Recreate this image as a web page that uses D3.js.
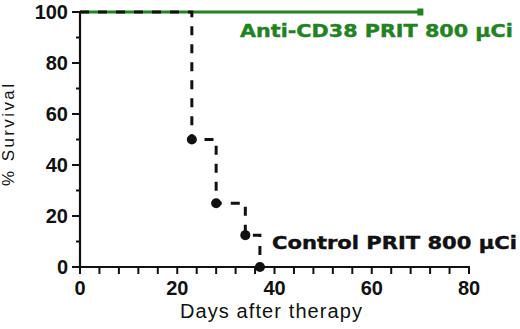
<!DOCTYPE html>
<html lang="en">
<head>
<meta charset="UTF-8">
<title>Survival after PRIT</title>
<script src="https://d3js.org/d3.v7.min.js"></script>
<style>
    body { margin: 0; background: #fff; }
    svg { display: block; }
    .tick-label { font-family: "Liberation Sans Narrow", "Liberation Sans", Arial, sans-serif; font-weight: bold; font-size: 20px; fill: #111; }
    .series-label { font-family: "DejaVu Sans", Verdana, sans-serif; font-weight: bold; font-size: 17px; }
    .axis-title { font-family: "Liberation Sans", Arial, sans-serif; fill: #111; }
</style>
</head>
<body>
<svg id="chart" width="520" height="329"></svg>
<script>
// data
const controlDays = [0, 23, 28, 34, 37];
const controlSurvival = [100, 50, 25, 12.5, 0];
const antiDays = [0, 70];
const antiSurvival = [100, 100];
const xMajorTicks = [0, 20, 40, 60, 80];
const yMajorTicks = [0, 20, 40, 60, 80, 100];

const green = "#1f831f";
const svg = d3.select("#chart");

const x = d3.scaleLinear().domain([0, 80]).range([80, 469]);
const y = d3.scaleLinear().domain([0, 100]).range([267, 12]);

// y axis: minor ticks every 10, labels on majors
svg.append("line").attr("x1", 80).attr("x2", 80).attr("y1", y(100) - 1).attr("y2", y(0) + 1)
    .attr("stroke", "#111").attr("stroke-width", 2.2);
svg.append("g").selectAll("line").data(d3.range(0, 101, 10)).join("line")
    .attr("x1", d => yMajorTicks.includes(d) ? 72 : 76).attr("x2", 80)
    .attr("y1", d => y(d)).attr("y2", d => y(d))
    .attr("stroke", "#111").attr("stroke-width", 2);
svg.append("g").selectAll("text").data(yMajorTicks).join("text")
    .attr("class", "tick-label")
    .attr("x", 68).attr("y", d => y(d) + 7)
    .attr("text-anchor", "end")
    .text(d => d);

// x axis: minor ticks every 4 days
svg.append("line").attr("x1", x(0) - 1).attr("x2", x(80) + 1).attr("y1", y(0)).attr("y2", y(0))
    .attr("stroke", "#111").attr("stroke-width", 2.2);
svg.append("g").selectAll("line").data(d3.range(0, 81, 4)).join("line")
    .attr("x1", d => x(d)).attr("x2", d => x(d))
    .attr("y1", y(0)).attr("y2", y(0) + 7)
    .attr("stroke", "#111").attr("stroke-width", 2);
svg.append("g").selectAll("text").data(xMajorTicks).join("text")
    .attr("class", "tick-label")
    .attr("x", d => x(d)).attr("y", 295)
    .attr("text-anchor", "middle")
    .text(d => d);

// anti-CD38 curve (solid green)
const step = d3.line().x(d => x(d[0])).y(d => y(d[1])).curve(d3.curveStepAfter);
svg.append("path")
    .datum(d3.zip(antiDays, antiSurvival))
    .attr("d", step)
    .attr("fill", "none").attr("stroke", green).attr("stroke-width", 3);
svg.append("rect")
    .attr("x", x(antiDays[1]) - 3).attr("y", y(antiSurvival[1]) - 3.5)
    .attr("width", 6).attr("height", 7).attr("fill", green);

// control curve (dashed black)
svg.append("path")
    .datum(d3.zip(controlDays, controlSurvival))
    .attr("d", step)
    .attr("fill", "none").attr("stroke", "#111").attr("stroke-width", 3)
    .attr("stroke-dasharray", "9,9");
svg.append("g").selectAll("circle")
    .data(d3.zip(controlDays, controlSurvival).slice(1)).join("circle")
    .attr("cx", d => x(d[0])).attr("cy", d => y(d[1]))
    .attr("r", 5).attr("fill", "#111");

// series labels, stretched wide like the original heavy face
function wideLabel(txt, x0, y0, width, color) {
    const t = svg.append("text").attr("class", "series-label")
        .attr("fill", color).attr("stroke", color).attr("stroke-width", 0.4)
        .text(txt);
    const k = width / t.node().getComputedTextLength();
    t.attr("transform", `translate(${x0},${y0}) scale(${k},1)`);
}
wideLabel("Anti-CD38 PRIT 800 μCi", 240, 37, 273, green);
wideLabel("Control PRIT 800 μCi", 272, 249, 245, "#111");

// axis titles
svg.append("text").attr("class", "axis-title")
    .attr("x", 180).attr("y", 318).style("font-size", "20px")
    .attr("textLength", 182).attr("lengthAdjust", "spacing")
    .text("Days after therapy");
svg.append("text").attr("class", "axis-title")
    .attr("transform", "translate(14,135) rotate(-90)")
    .attr("x", -51).style("font-size", "17px")
    .attr("textLength", 102).attr("lengthAdjust", "spacing")
    .text("% Survival");
</script>
</body>
</html>
